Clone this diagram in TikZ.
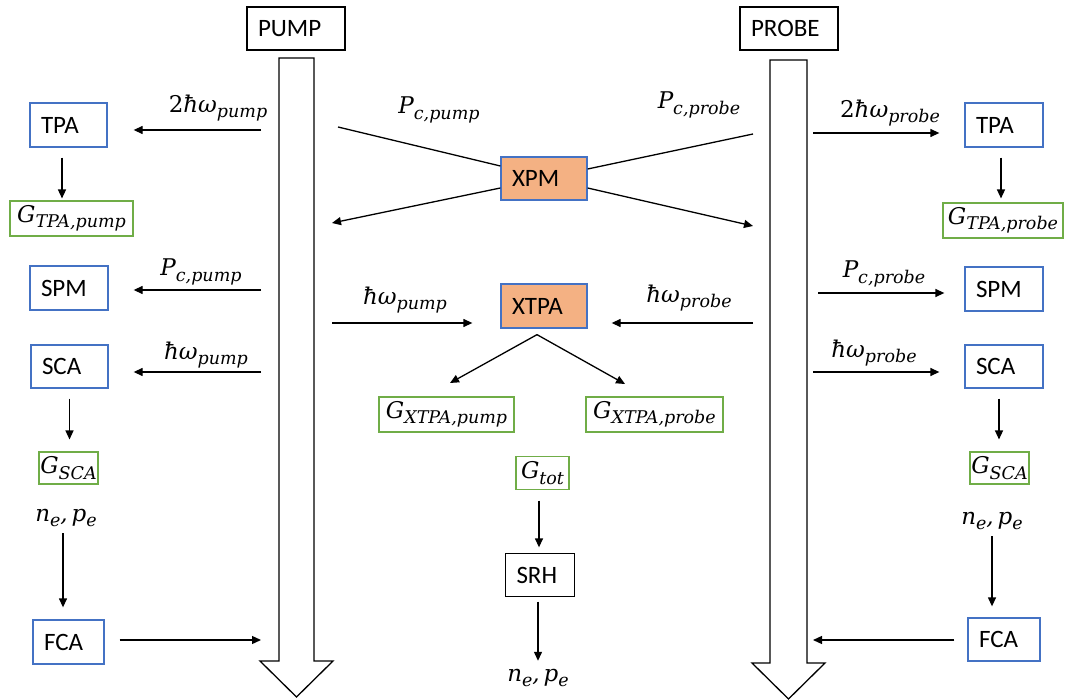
\documentclass[tikz,border=0pt]{standalone}
\usepackage{fontspec}
\setmainfont{Carlito}
\newfontfamily\mifont{DejaVu Serif}
\usetikzlibrary{arrows.meta}
\definecolor{bblue}{HTML}{4472C4}
\definecolor{bgreen}{HTML}{70AD47}
\definecolor{borange}{HTML}{F4B183}
\newcommand{\tfont}{\fontsize{25}{30}\selectfont}
\newcommand{\mfont}{\mifont\itshape\fontsize{23}{27}\selectfont}
\newcommand{\sfontx}{\fontsize{17.5}{20}\selectfont}
\newcommand{\msub}[2]{#1\raisebox{-5.5pt}{\sfontx #2}}
\begin{document}
\begin{tikzpicture}[x=1pt,y=-1pt,
  tbox/.style={draw, line width=1.3pt, inner xsep=11pt, inner ysep=0pt, minimum height=44pt, align=left, font=\tfont},
  bluebox/.style={tbox, draw=bblue},
  blackbox/.style={tbox, draw=black},
  orangebox/.style={tbox, draw=bblue, fill=borange},
  gbox/.style={draw=bgreen, line width=1.1pt, inner sep=0pt, font=\mfont},
  mlabel/.style={inner sep=0pt, font=\mfont},
  arr/.style={line width=1.3pt, -{Triangle[length=9pt,width=8pt]}},
  ln/.style={line width=1.3pt},
  block/.style={draw, line width=1.3pt, fill=white, line join=miter}
]
\useasboundingbox (0,0) rectangle (1065,700);

% big block arrows
\draw[block] (279,58) -- (314,58) -- (314,661) -- (333,661) -- (296.5,697) -- (260,661) -- (279,661) -- cycle;
\draw[block] (770,60) -- (807,60) -- (807,663) -- (825,663) -- (788.5,699) -- (752,663) -- (770,663) -- cycle;

% top boxes
\node[blackbox, text width=76pt, minimum height=43pt] (pump) at (296,28.5) {PUMP};
\node[blackbox, text width=76pt, minimum height=43pt] (probe) at (789,28.5) {PROBE};

% left column
\node[bluebox, text width=55pt] (tpaL) at (68.5,125) {TPA};
\node[gbox, minimum width=123pt, minimum height=35pt] (gtpaL) at (71.5,218.5) {\msub{G}{TPA,pump}};
\node[bluebox, text width=56pt] (spmL) at (69,288) {SPM};
\node[bluebox, text width=55pt, minimum height=43pt] (scaL) at (69.5,366.5) {SCA};
\node[gbox, minimum width=59pt, minimum height=32pt] (gscaL) at (68.5,468) {\msub{G}{SCA}};
\node[mlabel] (nepeL) at (66,518) {\msub{n}{e},\,\msub{p}{e}};
\node[bluebox, text width=49pt] (fcaL) at (68.5,642) {FCA};

% right column
\node[bluebox, text width=56pt] (tpaR) at (1004,125) {TPA};
\node[gbox, minimum width=120pt, minimum height=35pt] (gtpaR) at (1003,220.5) {\msub{G}{TPA,probe}};
\node[bluebox, text width=56pt] (spmR) at (1004,289) {SPM};
\node[bluebox, text width=56pt, minimum height=43pt] (scaR) at (1004,366.5) {SCA};
\node[gbox, minimum width=59pt, minimum height=32pt] (gscaR) at (999.5,468) {\msub{G}{SCA}};
\node[mlabel] (nepeR) at (992,521) {\msub{n}{e},\,\msub{p}{e}};
\node[bluebox, text width=50pt, minimum height=43pt] (fcaR) at (1004,639.5) {FCA};

% middle
\node[orangebox, text width=64pt, minimum height=43pt] (xpm) at (544,178.5) {XPM};
\node[orangebox, text width=64pt] (xtpa) at (544,306) {XTPA};
\node[gbox, minimum width=135pt, minimum height=35pt] (gxp) at (446.5,414.5) {\msub{G}{XTPA,pump}};
\node[gbox, minimum width=137pt, minimum height=35pt] (gxr) at (654.5,414.5) {\msub{G}{XTPA,probe}};
\node[gbox, minimum width=53pt, minimum height=33pt] (gtot) at (542.5,473) {\msub{G}{tot}};
\node[blackbox, text width=47pt, minimum height=43pt] (srh) at (540,575) {SRH};
\node[mlabel] (nepeM) at (538,678) {\msub{n}{e},\,\msub{p}{e}};

% labels
\node[mlabel] (l1) at (218,108) {{\upshape 2}\msub{ħω}{pump}};
\node[mlabel] (l2) at (201,272) {\msub{P}{c,pump}};
\node[mlabel] (l3) at (206,355) {\msub{ħω}{pump}};
\node[mlabel] (r1) at (890,113) {{\upshape 2}\msub{ħω}{probe}};
\node[mlabel] (r2) at (884,274) {\msub{P}{c,probe}};
\node[mlabel] (r3) at (874,353) {\msub{ħω}{probe}};
\node[mlabel] (m1) at (439,110) {\msub{P}{c,pump}};
\node[mlabel] (m2) at (699,105) {\msub{P}{c,probe}};
\node[mlabel] (m3) at (405,300) {\msub{ħω}{pump}};
\node[mlabel] (m4) at (689,298) {\msub{ħω}{probe}};

% free ends at the beams
\coordinate (pL1) at (261,130);
\coordinate (pL2) at (261,290);
\coordinate (pL3) at (261,372);
\coordinate (pL4) at (261,640);
\coordinate (pR1) at (813,133);
\coordinate (pR2) at (818,293);
\coordinate (pR3) at (813,372);
\coordinate (pR4) at (813,640);
\coordinate (cX1) at (338,127);
\coordinate (cX2) at (332,223);
\coordinate (cX3) at (753,134);
\coordinate (cX4) at (753,226);
\coordinate (cT1) at (332,323);
\coordinate (cT2) at (753,323);
\coordinate (cG1) at (450,383);
\coordinate (cG2) at (625,384);

% left connectors
\draw[arr, shorten >=26pt] (pL1) -- (tpaL.east |- pL1);
\draw[arr, shorten >=25pt] (pL2) -- (spmL.east |- pL2);
\draw[arr, shorten >=25pt] (pL3) -- (scaL.east |- pL3);
\draw[arr, shorten <=15pt] (fcaL.east |- pL4) -- (pL4);
\draw[arr, shorten <=10pt, shorten >=2pt] ([xshift=-6.5pt]tpaL.south) -- ([xshift=-6.5pt]tpaL.south |- gtpaL.north);
\draw[arr, shorten <=10pt, shorten >=12pt] (scaL.south) -- (scaL.south |- gscaL.north);
\draw[arr, shorten <=6pt, shorten >=12pt] ([xshift=-3pt]nepeL.south) -- ([xshift=-3pt]nepeL.south |- fcaL.north);

% right connectors
\draw[arr, shorten >=25pt] (pR1) -- (tpaR.west |- pR1);
\draw[arr, shorten >=20pt] (pR2) -- (spmR.west |- pR2);
\draw[arr, shorten >=25pt] (pR3) -- (scaR.west |- pR3);
\draw[arr, shorten <=13pt] (fcaR.west |- pR4) -- (pR4);
\draw[arr, shorten <=10pt, shorten >=4pt] ([xshift=-3pt]tpaR.south) -- ([xshift=-3pt]tpaR.south |- gtpaR.north);
\draw[arr, shorten <=10pt, shorten >=12pt] ([xshift=-5pt]scaR.south) -- ([xshift=-5pt]scaR.south |- gscaR.north);
\draw[arr, shorten <=6pt, shorten >=11pt] (nepeR.south) -- (nepeR.south |- fcaR.north);

% middle connectors
\draw[ln] (cX1) -- ([yshift=12.5pt]xpm.west);
\draw[arr] ([yshift=-9.5pt]xpm.west) -- (cX2);
\draw[ln] (cX3) -- ([yshift=9.5pt]xpm.east);
\draw[arr] ([yshift=-9.5pt]xpm.east) -- (cX4);
\draw[arr, shorten >=28pt] (cT1) -- (xtpa.west |- cT1);
\draw[arr, shorten >=24pt] (cT2) -- (xtpa.east |- cT2);
\draw[arr] ([shift={(-7pt,-6pt)}]xtpa.south) -- (cG1);
\draw[arr] ([shift={(-7pt,-6pt)}]xtpa.south) -- (cG2);
\draw[arr, shorten <=10.5pt, shorten >=5.5pt] ([xshift=-3.5pt]gtot.south) -- ([xshift=-3.5pt]gtot.south |- srh.north);
\draw[arr, shorten <=4.5pt, shorten >=8pt] ([xshift=-2pt]srh.south) -- ([xshift=-2pt]srh.south |- nepeM.north);
\end{tikzpicture}
\end{document}
